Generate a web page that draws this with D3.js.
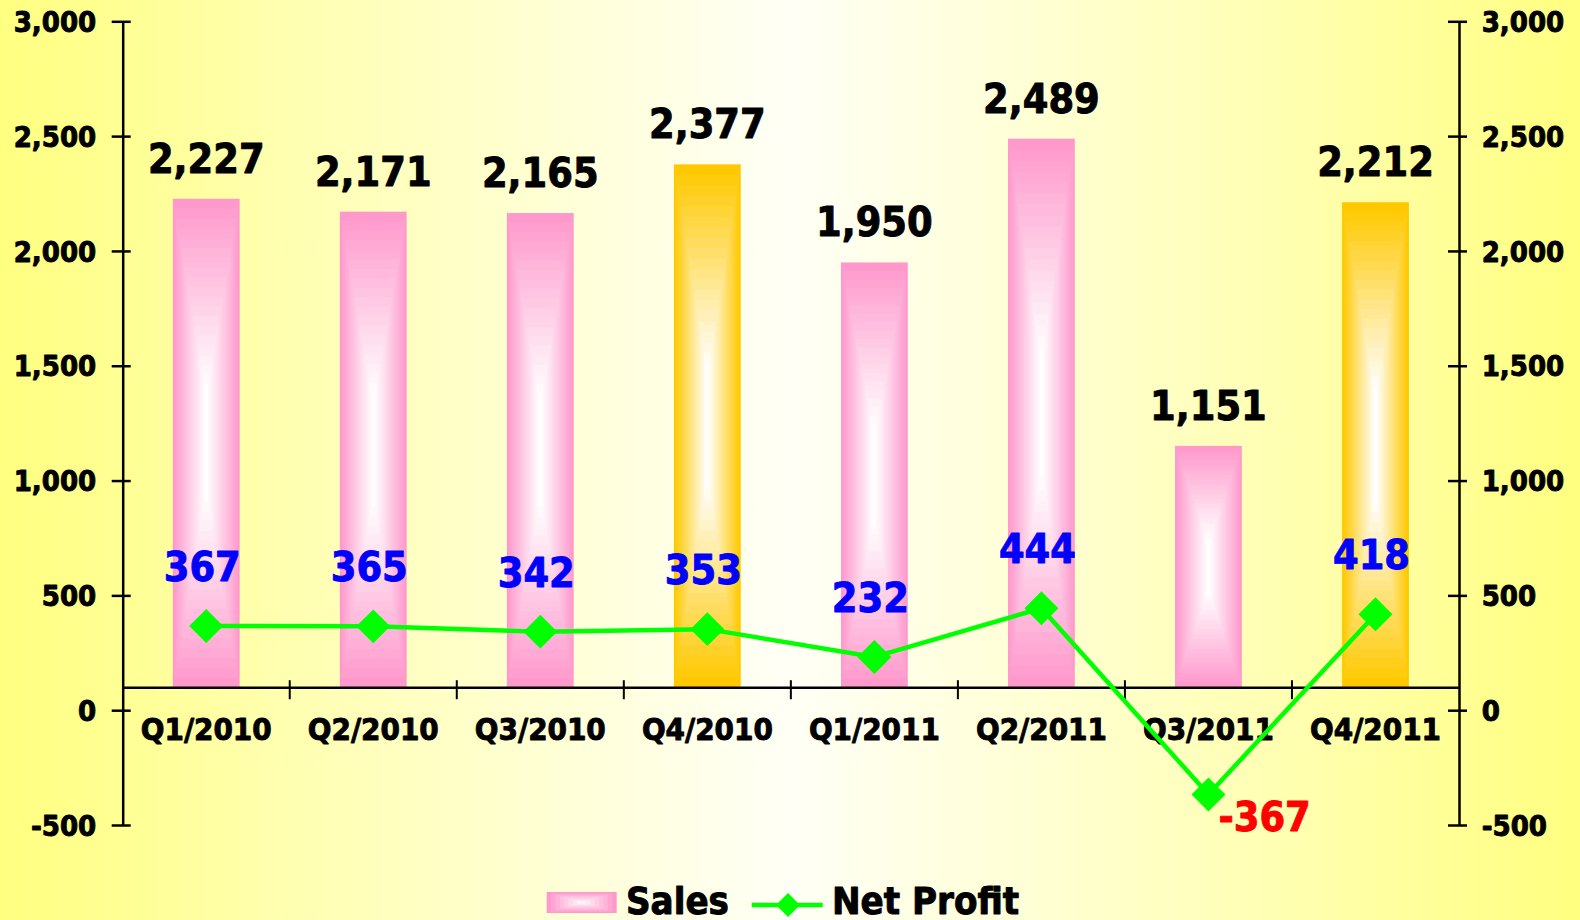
<!DOCTYPE html>
<html>
<head>
<meta charset="utf-8">
<script src="https://cdn.jsdelivr.net/npm/d3@7"></script>
<style>
  html, body { margin: 0; padding: 0; overflow: hidden; }
  svg { display: block; }
  text { font-family: "DejaVu Sans Condensed", "DejaVu Sans", sans-serif; font-weight: bold; font-stretch: condensed; }
</style>
</head>
<body>
<svg id="chart" width="1580" height="920"></svg>
<script>
const categories = ["Q1/2010", "Q2/2010", "Q3/2010", "Q4/2010", "Q1/2011", "Q2/2011", "Q3/2011", "Q4/2011"];
const sales = [2227, 2171, 2165, 2377, 1950, 2489, 1151, 2212];
const netProfit = [367, 365, 342, 353, 232, 444, -367, 418];
const highlighted = ["Q4/2010", "Q4/2011"];
const axisTicks = [-500, 0, 500, 1000, 1500, 2000, 2500, 3000];
const seriesNames = ["Sales", "Net Profit"];
const axisCross = 100;

const W = 1580, H = 920;
const svg = d3.select("#chart");
const defs = svg.append("defs");
const fmt = d3.formatLocale({ decimal: ".", thousands: ",", grouping: [3], currency: ["", ""], minus: "-" }).format(",");

// background
const bg = defs.append("linearGradient").attr("id", "bg").attr("x1", 0).attr("x2", 1).attr("y1", 0).attr("y2", 0);
[[0, "#ffff80"], [0.18, "#ffffb0"], [0.5, "#fffff6"], [0.82, "#ffffb0"], [1, "#ffff80"]]
  .forEach(([o, c]) => bg.append("stop").attr("offset", o).attr("stop-color", c));
svg.append("rect").attr("width", W).attr("height", H).attr("fill", "url(#bg)");

const left = 122.7, right = 1459;
const y = d3.scaleLinear().domain([-500, 3000]).range([825, 21.3]);
const x = d3.scaleBand().domain(categories).range([left, right]).padding(0);
const bw = x.bandwidth();
const barW = bw * 0.4;
const y0 = y(axisCross);

// bars with rectangular "path" gradient emulated by nested rects
const steps = 20;
function barColor(cat) { return highlighted.includes(cat) ? "#ffc800" : "#ff99cc"; }
const barG = svg.append("g");
categories.forEach((c, i) => {
  const x0 = x(c) + (bw - barW) / 2;
  const top = y(sales[i]);
  const h = y0 - top;
  const edge = barColor(c);
  const interp = d3.interpolateRgb(edge, "#ffffff");
  const g = barG.append("g");
  for (let k = 0; k < steps; k++) {
    const f = k / steps;
    const fy = f * 0.8;
    g.append("rect")
      .attr("x", x0 + f * barW / 2)
      .attr("y", top + fy * h / 2)
      .attr("width", barW * (1 - f))
      .attr("height", h * (1 - fy))
      .attr("fill", interp(Math.min(1, f * 1.05)));
  }
});

const strokeText = sel => sel.attr("stroke-width", 0.9).attr("stroke-linejoin", "round");

// left axis
const tickFont = 29;
const leftAxis = svg.append("g").attr("transform", `translate(${left},0)`)
  .call(d3.axisLeft(y).tickValues(axisTicks).tickSize(0).tickPadding(26.5).tickFormat(fmt));
leftAxis.select(".domain").attr("stroke", "#000").attr("stroke-width", 2.5);
leftAxis.selectAll(".tick text").attr("font-size", tickFont).attr("fill", "#000").attr("stroke", "#000").attr("dy", "0.35em")
  .style("font-family", '"DejaVu Sans Condensed", "DejaVu Sans", sans-serif').call(strokeText);
leftAxis.selectAll(".tick").append("line").attr("x1", -11).attr("x2", 8).attr("stroke", "#000").attr("stroke-width", 2.5);

const rightAxis = svg.append("g").attr("transform", `translate(${right},0)`)
  .call(d3.axisRight(y).tickValues(axisTicks).tickSize(0).tickPadding(22.7).tickFormat(fmt));
rightAxis.select(".domain").attr("stroke", "#000").attr("stroke-width", 2.5);
rightAxis.selectAll(".tick text").attr("font-size", tickFont).attr("fill", "#000").attr("stroke", "#000").attr("dy", "0.35em")
  .style("font-family", '"DejaVu Sans Condensed", "DejaVu Sans", sans-serif').call(strokeText);
rightAxis.selectAll(".tick").append("line").attr("x1", -11).attr("x2", 8).attr("stroke", "#000").attr("stroke-width", 2.5);

// category axis
const catAxis = svg.append("g").attr("transform", `translate(0,${y0})`)
  .call(d3.axisBottom(x).tickSize(0).tickPadding(0));
catAxis.select(".domain").attr("stroke", "#000").attr("stroke-width", 2.5);
catAxis.selectAll(".tick text").attr("font-size", 31).attr("fill", "#000").attr("stroke", "#000").attr("dy", 0).attr("y", 53)
  .style("font-family", '"DejaVu Sans Condensed", "DejaVu Sans", sans-serif').call(strokeText);
const boundaries = categories.slice(1).map(c => x(c));
catAxis.selectAll(".bound").data(boundaries).join("line").attr("class", "bound")
  .attr("x1", d => d).attr("x2", d => d).attr("y1", -7).attr("y2", 12)
  .attr("stroke", "#000").attr("stroke-width", 2);

// sales labels
svg.append("g").selectAll("text").data(sales).join("text")
  .attr("x", (d, i) => x(categories[i]) + bw / 2)
  .attr("y", d => y(d) - 26)
  .attr("text-anchor", "middle").attr("font-size", 41).attr("fill", "#000").attr("stroke", "#000")
  .call(strokeText)
  .text(d => fmt(d));

// net profit line
const line = d3.line().x((d, i) => x(categories[i]) + bw / 2).y(d => y(d));
svg.append("path").datum(netProfit).attr("d", line).attr("fill", "none")
  .attr("stroke", "#00ff00").attr("stroke-width", 4.5).attr("stroke-linejoin", "round");
const diamond = d3.symbol().type(d3.symbolSquare).size(24 * 24);
svg.append("g").selectAll("path").data(netProfit).join("path")
  .attr("d", diamond)
  .attr("transform", (d, i) => `translate(${x(categories[i]) + bw / 2},${y(d)}) rotate(45)`)
  .attr("fill", "#00ff00");

svg.append("g").selectAll("text").data(netProfit).join("text")
  .attr("x", (d, i) => x(categories[i]) + bw / 2 + (d < 0 ? 10 : -4))
  .attr("y", d => d < 0 ? y(d) + 37 : y(d) - 45)
  .attr("text-anchor", d => d < 0 ? "start" : "middle")
  .attr("font-size", 41)
  .attr("fill", d => d < 0 ? "#ff0000" : "#0000ff")
  .attr("stroke", d => d < 0 ? "#ff0000" : "#0000ff")
  .call(strokeText)
  .text(d => fmt(d));

// legend
const lg = svg.append("g");
const legGrad = lg.append("g");
{
  const lx = 546.7, ly = 892, lw = 70, lh = 21;
  const interp = d3.interpolateRgb("#ff99cc", "#ffffff");
  for (let k = 0; k < 8; k++) {
    const f = k / 8;
    legGrad.append("rect").attr("x", lx + f * lw / 2).attr("y", ly + f * lh / 2)
      .attr("width", lw * (1 - f)).attr("height", lh * (1 - f)).attr("fill", interp(f));
  }
}
lg.append("text").attr("x", 626).attr("y", 914).attr("font-size", 38).attr("fill", "#000").attr("stroke", "#000")
  .call(strokeText).text(seriesNames[0]);
lg.append("line").attr("x1", 751.7).attr("x2", 822.7).attr("y1", 905).attr("y2", 905)
  .attr("stroke", "#00ff00").attr("stroke-width", 4.5);
lg.append("path").attr("d", d3.symbol().type(d3.symbolSquare).size(17 * 17)())
  .attr("transform", "translate(788,905) rotate(45)").attr("fill", "#00ff00");
lg.append("text").attr("x", 832).attr("y", 914).attr("font-size", 38).attr("fill", "#000").attr("stroke", "#000")
  .call(strokeText).text(seriesNames[1]);
</script>
</body>
</html>
